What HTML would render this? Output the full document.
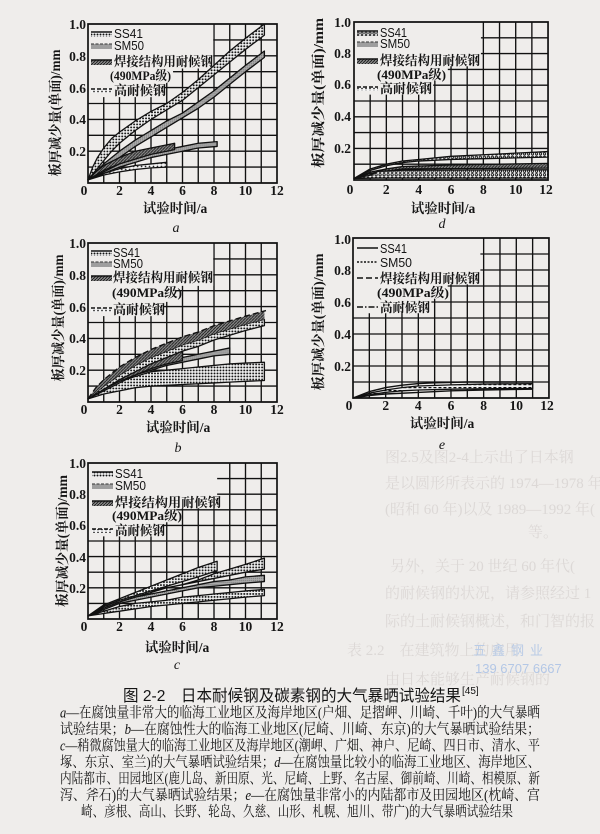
<!DOCTYPE html>
<html><head><meta charset="utf-8">
<style>
html,body{margin:0;padding:0;background:#efedeb;}
svg{display:block;}
.tk{font-family:"Liberation Serif",serif;font-size:13.5px;fill:#161616;font-weight:bold;}
.lg{font-family:"Liberation Sans","Noto Serif CJK SC",sans-serif;font-size:13px;fill:#141414;}
.cj{font-family:"Liberation Serif","Noto Serif CJK SC",serif;font-size:13px;fill:#141414;font-weight:bold;}
.ax{font-family:"Liberation Serif","Noto Serif CJK SC",serif;font-size:13.5px;fill:#161616;font-weight:bold;}
.pl{font-family:"Liberation Serif",serif;font-size:14px;font-style:italic;fill:#161616;}
.cap{font-family:"Liberation Serif","Noto Serif CJK SC",serif;font-size:14.5px;fill:#141414;}
.ttl{font-family:"Liberation Sans","Noto Sans CJK SC",sans-serif;font-size:16px;fill:#141414;}
.it{font-style:italic;font-family:"Liberation Serif",serif;}
.bl{font-family:"Liberation Serif","Noto Serif CJK SC",serif;font-size:15px;fill:#dcd8d6;}
.b{stroke:#111;stroke-width:1.3px;vector-effect:non-scaling-stroke;stroke-linejoin:round;}
.ln{fill:none;stroke:#111;stroke-width:1.4px;vector-effect:non-scaling-stroke;stroke-linejoin:round;}
.fr{fill:none;stroke:#111;stroke-width:1.7px;vector-effect:non-scaling-stroke;}
</style></head><body>
<svg width="600" height="834" viewBox="0 0 600 834" xmlns="http://www.w3.org/2000/svg">
<defs>
 <path id="grid" d="M1,0V1M2,0V1M3,0V1M4,0V1M5,0V1M6,0V1M7,0V1M8,0V1M9,0V1M10,0V1M11,0V1M0,.1H12M0,.2H12M0,.3H12M0,.4H12M0,.5H12M0,.6H12M0,.7H12M0,.8H12M0,.9H12" fill="none" stroke="#111" stroke-width="1.35" vector-effect="non-scaling-stroke"/>
 <pattern id="dDot" patternUnits="userSpaceOnUse" width="3" height="3" patternTransform="scale(0.0630,-0.00630)">
  <rect width="3" height="3" fill="#f4f4f4"/><circle cx="1.5" cy="1.5" r="1.0" fill="#111"/></pattern>
 <pattern id="dGray" patternUnits="userSpaceOnUse" width="2" height="2" patternTransform="scale(0.0630,-0.00630)">
  <rect width="2" height="2" fill="#adadad"/><circle cx="1" cy="1" r="0.55" fill="#666"/></pattern>
 <pattern id="dHatch" patternUnits="userSpaceOnUse" width="3" height="3" patternTransform="scale(0.0630,-0.00630)">
  <rect width="3" height="3" fill="#858585"/><path d="M0,3L3,0" stroke="#1a1a1a" stroke-width="0.9"/></pattern>
 <pattern id="dLite" patternUnits="userSpaceOnUse" width="4" height="3" patternTransform="scale(0.0630,-0.00630)">
  <rect width="4" height="3" fill="#f4f4f4"/><circle cx="2" cy="1.5" r="0.85" fill="#222"/></pattern>
 <pattern id="dO" patternUnits="userSpaceOnUse" width="4" height="3.5" patternTransform="scale(0.0620,-0.00630)">
  <rect width="4" height="3.5" fill="#f2f2f2"/><circle cx="2" cy="1.75" r="1.15" fill="none" stroke="#111" stroke-width="0.9"/></pattern>
 <pattern id="dDash" patternUnits="userSpaceOnUse" width="5" height="3" patternTransform="scale(0.0612,-0.00625)">
  <rect width="5" height="3" fill="#f2f2f2"/><rect x="0.5" y="1" width="3" height="1.2" fill="#111"/></pattern>
 <pattern id="lDot" patternUnits="userSpaceOnUse" width="3" height="3">
  <rect width="3" height="3" fill="#f4f4f4"/><circle cx="1.5" cy="1.5" r="1.0" fill="#111"/></pattern>
 <pattern id="lGray" patternUnits="userSpaceOnUse" width="2" height="2">
  <rect width="2" height="2" fill="#adadad"/><circle cx="1" cy="1" r="0.55" fill="#666"/></pattern>
 <pattern id="lHatch" patternUnits="userSpaceOnUse" width="3" height="3">
  <rect width="3" height="3" fill="#858585"/><path d="M0,3L3,0" stroke="#1a1a1a" stroke-width="0.9"/></pattern>
 <pattern id="lLite" patternUnits="userSpaceOnUse" width="4" height="3">
  <rect width="4" height="3" fill="#f4f4f4"/><circle cx="2" cy="1.5" r="0.85" fill="#222"/></pattern>
 <pattern id="lO" patternUnits="userSpaceOnUse" width="4" height="3.5">
  <rect width="4" height="3.5" fill="#f2f2f2"/><circle cx="2" cy="1.75" r="1.15" fill="none" stroke="#111" stroke-width="0.9"/></pattern>
</defs>

<rect width="600" height="834" fill="#efedeb"/>

<g class="bl">
 <text x="385" y="462">图2.5及图2-4上示出了日本钢</text>
 <text x="385" y="488">是以圆形所表示的 1974—1978 年</text>
 <text x="385" y="514">(昭和 60 年)以及 1989—1992 年(</text>
 <text x="528" y="537">等。</text>
 <text x="390" y="571">另外，关于 20 世纪 60 年代(</text>
 <text x="385" y="598">的耐候钢的状况，请参照经过 1</text>
 <text x="385" y="626">际的土耐候钢概述，和门智的报</text>
 <text x="347" y="655">表 2.2　在建筑物上的应用</text>
 <text x="385" y="684">由日本能够生产耐候钢的</text>
</g>
<text x="473" y="655" style="font-family:'Noto Sans CJK SC',sans-serif;font-size:13px;fill:#b9cbe6;letter-spacing:6px">五鑫钢业</text>
<text x="475" y="673" style="font-family:'Liberation Sans',sans-serif;font-size:13px;fill:#b3c7e6">139 6707 6667</text>

<!-- ============ Chart a ============ -->
<g transform="translate(88,183) scale(15.75,-159)">
 <use href="#grid"/>
 <polygon points="0,1 7.95,1 7.95,0.72 5.4,0.72 5.4,0.63 4.8,0.63 4.8,0.54 0,0.54" fill="#efedeb"/>
 <polygon class="b" fill="url(#dGray)" points="0,0.02 1,0.12 2,0.2 3,0.27 4,0.33 5,0.39 6,0.44 7,0.51 8,0.58 9,0.66 10,0.74 11.2,0.83 11.2,0.79 10,0.7 9,0.62 8,0.54 7,0.47 6,0.41 5,0.35 4,0.29 3,0.23 2,0.16 1,0.09"/>
 <polygon class="b" fill="url(#dDot)" points="0,0.02 0.3,0.1 0.6,0.16 1,0.22 1.5,0.28 2,0.32 3,0.39 4,0.45 5,0.5 6,0.57 7,0.65 8,0.74 9,0.83 10,0.91 11.2,1 11.2,0.93 10,0.84 9,0.76 8,0.68 7,0.6 6,0.52 5,0.46 4,0.4 3,0.33 2,0.25 1.5,0.2 1,0.14 0.5,0.08"/>
 <polygon class="b" fill="url(#dGray)" points="0,0.02 1,0.07 2,0.12 3,0.16 4,0.19 5,0.21 6,0.23 7,0.25 8.2,0.26 8.2,0.23 7,0.22 6,0.2 5,0.18 4,0.16 3,0.13 2,0.1 1,0.06"/>
 <polygon class="b" fill="url(#dHatch)" points="0,0.02 0.5,0.07 1,0.11 2,0.16 3,0.2 4,0.22 5,0.24 5.5,0.25 5.5,0.21 5,0.2 4,0.18 3,0.15 2,0.12 1,0.08 0.5,0.05"/>
 <polygon class="b" fill="url(#dLite)" points="0,0.02 1,0.06 2,0.09 3,0.11 4,0.12 5,0.13 5,0.1 4,0.095 3,0.085 2,0.07 1,0.05"/>
 <rect class="fr" x="0" y="0" width="12" height="1"/>
</g>
<g>
 <rect x="91" y="32" width="21" height="5" fill="url(#lDot)"/><line x1="91" y1="32" x2="112" y2="32" stroke="#111" stroke-width="1.5"/>
 <rect x="91" y="44" width="21" height="5" fill="url(#lGray)"/><line x1="91" y1="44" x2="112" y2="44" stroke="#555" stroke-width="1.2" stroke-dasharray="3,1.5"/>
 <rect x="91" y="60" width="21" height="5" fill="url(#lHatch)"/><line x1="91" y1="60" x2="112" y2="60" stroke="#111" stroke-width="1.5"/>
 <rect x="91" y="89" width="21" height="4" fill="url(#lLite)"/><line x1="91" y1="89" x2="112" y2="89" stroke="#111" stroke-width="1.4" stroke-dasharray="4,2"/>
 <text class="lg" x="114" y="38" textLength="29" lengthAdjust="spacingAndGlyphs">SS41</text>
 <text class="lg" x="114" y="50" textLength="30" lengthAdjust="spacingAndGlyphs">SM50</text>
 <text class="cj" x="114" y="66" textLength="99" lengthAdjust="spacingAndGlyphs">焊接结构用耐候钢</text>
 <text class="cj" x="110" y="80" textLength="61" lengthAdjust="spacingAndGlyphs">(490MPa级)</text>
 <text class="cj" x="114" y="95" textLength="52" lengthAdjust="spacingAndGlyphs">高耐候钢</text>
</g>
<g class="tk" text-anchor="end">
 <text x="86" y="156">0.2</text><text x="86" y="124">0.4</text><text x="86" y="93">0.6</text><text x="86" y="61">0.8</text><text x="86" y="29">1.0</text>
</g>
<g class="tk" text-anchor="middle">
 <text x="84" y="195">0</text><text x="119.5" y="195">2</text><text x="151" y="195">4</text><text x="182.5" y="195">6</text><text x="214" y="195">8</text><text x="245.5" y="195">10</text><text x="277" y="195">12</text>
</g>
<text class="ax" transform="translate(60,113) rotate(-90)" text-anchor="middle" textLength="127" lengthAdjust="spacingAndGlyphs">板厚减少量(单面)/mm</text>
<text class="ax" x="175" y="213" text-anchor="middle">试验时间/a</text>
<text class="pl" x="176" y="232" text-anchor="middle">a</text>

<!-- ============ Chart d ============ -->
<g transform="translate(354,180) scale(16.17,-158)">
 <use href="#grid"/>
 <polygon points="0,1 7.85,1 7.85,0.72 5.8,0.72 5.8,0.63 4.9,0.63 4.9,0.54 0,0.54" fill="#efedeb"/>
 <polygon class="b" fill="url(#dO)" points="0,0.01 0.5,0.04 1,0.07 2,0.1 3,0.12 4,0.13 6,0.15 8,0.16 10,0.17 12,0.18 12,0.145 10,0.14 8,0.135 6,0.13 4,0.12 3,0.11 2,0.09 1,0.06 0.5,0.035"/>
 <polygon class="b" fill="url(#dHatch)" points="0,0.01 1,0.05 2,0.07 3,0.085 6,0.095 9,0.1 12,0.105 12,0.075 9,0.073 6,0.072 3,0.07 2,0.055 1,0.04"/>
 <polygon class="b" fill="url(#dO)" points="0,0.01 1,0.03 1.5,0.055 3,0.062 12,0.065 12,0.012 1.5,0.012"/>
 <rect class="fr" x="0" y="0" width="12" height="1"/>
</g>
<g>
 <rect x="357" y="31" width="21" height="5" fill="url(#lO)"/><line x1="357" y1="31" x2="378" y2="31" stroke="#111" stroke-width="1.5"/>
 <rect x="357" y="42" width="21" height="5" fill="url(#lGray)"/><line x1="357" y1="42" x2="378" y2="42" stroke="#555" stroke-width="1.2" stroke-dasharray="3,1.5"/>
 <rect x="357" y="59" width="21" height="5" fill="url(#lHatch)"/><line x1="357" y1="59" x2="378" y2="59" stroke="#111" stroke-width="1.5"/>
 <rect x="357" y="87" width="21" height="4" fill="url(#lLite)"/><line x1="357" y1="87" x2="378" y2="87" stroke="#111" stroke-width="1.4" stroke-dasharray="4,2"/>
 <text class="lg" x="380" y="37" textLength="27" lengthAdjust="spacingAndGlyphs">SS41</text>
 <text class="lg" x="380" y="48" textLength="30" lengthAdjust="spacingAndGlyphs">SM50</text>
 <text class="cj" x="380" y="65" textLength="100" lengthAdjust="spacingAndGlyphs">焊接结构用耐候钢</text>
 <text class="cj" x="377" y="79" textLength="69" lengthAdjust="spacingAndGlyphs">(490MPa级)</text>
 <text class="cj" x="380" y="93" textLength="52" lengthAdjust="spacingAndGlyphs">高耐候钢</text>
</g>
<g class="tk" text-anchor="end">
 <text x="351" y="153">0.2</text><text x="351" y="121">0.4</text><text x="351" y="89">0.6</text><text x="351" y="58">0.8</text><text x="351" y="27">1.0</text>
</g>
<g class="tk" text-anchor="middle">
 <text x="350" y="194">0</text><text x="386.3" y="194">2</text><text x="418.7" y="194">4</text><text x="451" y="194">6</text><text x="483.4" y="194">8</text><text x="515.7" y="194">10</text><text x="546" y="194">12</text>
</g>
<text class="ax" transform="translate(323,93) rotate(-90)" text-anchor="middle" textLength="150" lengthAdjust="spacingAndGlyphs">板厚减少量(单面)/mm</text>
<text class="ax" x="443" y="213" text-anchor="middle">试验时间/a</text>
<text class="pl" x="442" y="228" text-anchor="middle">d</text>

<!-- ============ Chart b ============ -->
<g transform="translate(88,402) scale(15.75,-159)">
 <use href="#grid"/>
 <polygon points="0,1 7.95,1 7.95,0.73 5.6,0.73 5.6,0.63 4.8,0.63 4.8,0.54 0,0.54" fill="#efedeb"/>
 <polygon class="b" fill="url(#dDot)" points="0,0.02 1,0.08 2,0.13 3,0.16 4,0.19 5,0.2 6,0.21 7,0.22 8,0.23 9,0.24 10,0.245 11.2,0.25 11.2,0.135 10,0.13 9,0.125 8,0.12 7,0.115 6,0.11 5,0.105 4,0.1 3,0.09 2,0.07 1,0.05"/>
 <polygon class="b" fill="url(#dGray)" points="0,0.02 1,0.09 2,0.14 3,0.19 4,0.22 5,0.25 6,0.28 7,0.3 8,0.32 9,0.34 9,0.3 8,0.29 7,0.27 6,0.25 5,0.23 4,0.2 3,0.17 2,0.12 1,0.07"/>
 <polygon class="b" fill="url(#dHatch)" points="0,0.02 1,0.1 2,0.16 3,0.21 4,0.26 5,0.3 6,0.34 6,0.26 5,0.24 4,0.21 3,0.17 2,0.13 1,0.08"/>
 <polygon class="b" fill="url(#dDot)" points="0,0.02 1,0.1 2,0.17 3,0.23 4,0.28 5,0.32 6,0.36 7,0.39 8,0.43 9,0.46 10,0.49 11.2,0.52 11.2,0.48 10,0.45 9,0.42 8,0.39 7,0.35 6,0.32 5,0.28 4,0.24 3,0.19 2,0.14 1,0.08"/>
 <polygon fill="url(#dHatch)" points="0,0.02 0.5,0.09 1,0.14 2,0.22 3,0.28 4,0.33 5,0.37 6,0.41 7,0.44 8,0.48 9,0.51 10,0.54 11.2,0.57 11.2,0.52 10,0.49 9,0.46 8,0.43 7,0.39 6,0.36 5,0.32 4,0.28 3,0.23 2,0.17 1,0.1"/>
 <polyline class="ln" stroke-dasharray="6,3" points="0,0.02 0.5,0.09 1,0.14 2,0.22 3,0.28 4,0.33 5,0.37 6,0.41 7,0.44 8,0.48 9,0.51 10,0.54 11.3,0.575"/>
 <rect class="fr" x="0" y="0" width="12" height="1"/>
</g>
<g>
 <rect x="91" y="251" width="21" height="5" fill="url(#lDot)"/><line x1="91" y1="251" x2="112" y2="251" stroke="#111" stroke-width="1.5"/>
 <rect x="91" y="262" width="21" height="5" fill="url(#lGray)"/><line x1="91" y1="262" x2="112" y2="262" stroke="#555" stroke-width="1.2" stroke-dasharray="3,1.5"/>
 <rect x="91" y="276" width="21" height="5" fill="url(#lHatch)"/><line x1="91" y1="276" x2="112" y2="276" stroke="#111" stroke-width="1.5"/>
 <rect x="91" y="308" width="21" height="4" fill="url(#lLite)"/><line x1="91" y1="308" x2="112" y2="308" stroke="#111" stroke-width="1.4" stroke-dasharray="4,2"/>
 <text class="lg" x="113" y="257" textLength="27" lengthAdjust="spacingAndGlyphs">SS41</text>
 <text class="lg" x="113" y="268" textLength="30" lengthAdjust="spacingAndGlyphs">SM50</text>
 <text class="cj" x="113" y="282" textLength="100" lengthAdjust="spacingAndGlyphs">焊接结构用耐候钢</text>
 <text class="cj" x="112" y="297" textLength="70" lengthAdjust="spacingAndGlyphs">(490MPa级)</text>
 <text class="cj" x="113" y="314" textLength="52" lengthAdjust="spacingAndGlyphs">高耐候钢</text>
</g>
<g class="tk" text-anchor="end">
 <text x="86" y="375">0.2</text><text x="86" y="343">0.4</text><text x="86" y="312">0.6</text><text x="86" y="280">0.8</text><text x="86" y="248">1.0</text>
</g>
<g class="tk" text-anchor="middle">
 <text x="84" y="414">0</text><text x="119.5" y="414">2</text><text x="151" y="414">4</text><text x="182.5" y="414">6</text><text x="214" y="414">8</text><text x="245.5" y="414">10</text><text x="277" y="414">12</text>
</g>
<text class="ax" transform="translate(63,318) rotate(-90)" text-anchor="middle" textLength="127" lengthAdjust="spacingAndGlyphs">板厚减少量(单面)/mm</text>
<text class="ax" x="178" y="432" text-anchor="middle">试验时间/a</text>
<text class="pl" x="178" y="452" text-anchor="middle">b</text>

<!-- ============ Chart e ============ -->
<g transform="translate(353,398) scale(16.33,-160)">
 <use href="#grid"/>
 <polygon points="0,1 7.8,1 7.8,0.71 5.8,0.71 5.8,0.62 4.8,0.62 4.8,0.53 0,0.53" fill="#efedeb"/>
 <polygon class="b" fill="url(#dDash)" points="0,0 1,0.03 2,0.05 3,0.065 4,0.075 6,0.082 8,0.087 11,0.09 11,0.06 8,0.058 6,0.055 4,0.05 3,0.045 2,0.035 1,0.02"/>
 <polyline class="ln" points="0,0 1,0.04 2,0.065 3,0.08 4,0.09 5,0.095 7,0.1 11,0.1"/>
 <polyline class="ln" points="0,0 1,0.015 2,0.025 4,0.035 6,0.045 8,0.05 11,0.055"/>
 <rect class="fr" x="0" y="0" width="12" height="1"/>
</g>
<g stroke="#111" stroke-width="1.5">
 <line x1="357" y1="248" x2="378" y2="248"/>
 <line x1="357" y1="262" x2="378" y2="262" stroke-dasharray="2,1.5"/>
 <line x1="357" y1="278" x2="378" y2="278" stroke-dasharray="6,3"/>
 <line x1="357" y1="307" x2="378" y2="307" stroke-dasharray="6,2,1.5,2"/>
</g>
<g>
 <text class="lg" x="380" y="253" textLength="27" lengthAdjust="spacingAndGlyphs">SS41</text>
 <text class="lg" x="380" y="267" textLength="32" lengthAdjust="spacingAndGlyphs">SM50</text>
 <text class="cj" x="380" y="283" textLength="100" lengthAdjust="spacingAndGlyphs">焊接结构用耐候钢</text>
 <text class="cj" x="377" y="297" textLength="72" lengthAdjust="spacingAndGlyphs">(490MPa级)</text>
 <text class="cj" x="380" y="312" textLength="50" lengthAdjust="spacingAndGlyphs">高耐候钢</text>
</g>
<g class="tk" text-anchor="end">
 <text x="351" y="371">0.2</text><text x="351" y="339">0.4</text><text x="351" y="307">0.6</text><text x="351" y="275">0.8</text><text x="351" y="244">1.0</text>
</g>
<g class="tk" text-anchor="middle">
 <text x="349" y="410">0</text><text x="385.7" y="410">2</text><text x="418.3" y="410">4</text><text x="451" y="410">6</text><text x="483.6" y="410">8</text><text x="516.3" y="410">10</text><text x="547" y="410">12</text>
</g>
<text class="ax" transform="translate(323,322) rotate(-90)" text-anchor="middle" textLength="137" lengthAdjust="spacingAndGlyphs">板厚减少量(单面)/mm</text>
<text class="ax" x="442" y="428" text-anchor="middle">试验时间/a</text>
<text class="pl" x="442" y="449" text-anchor="middle">e</text>

<!-- ============ Chart c ============ -->
<g transform="translate(88,619) scale(15.75,-156)">
 <use href="#grid"/>
 <polygon points="0,1 8.2,1 8.2,0.71 5.6,0.71 5.6,0.62 4.7,0.62 4.7,0.53 0,0.53" fill="#efedeb"/>
 <polygon class="b" fill="url(#dDot)" points="0,0.02 1,0.05 2,0.08 3,0.1 4,0.11 5,0.12 6,0.14 7,0.15 8,0.16 9,0.17 10,0.18 11.2,0.19 11.2,0.15 10,0.14 9,0.13 8,0.12 7,0.11 6,0.1 5,0.09 4,0.08 3,0.065 2,0.05 1,0.035"/>
 <polygon class="b" fill="url(#dGray)" points="0,0.02 1,0.07 2,0.11 3,0.14 4,0.16 5,0.18 6,0.2 7,0.22 8,0.24 9,0.25 10,0.27 11.2,0.28 11.2,0.24 10,0.23 9,0.22 8,0.21 7,0.2 6,0.18 5,0.16 4,0.14 3,0.12 2,0.1 1,0.06"/>
 <polygon class="b" fill="url(#dDot)" points="0,0.02 1,0.08 2,0.12 3,0.15 4,0.18 5,0.2 6,0.22 7,0.25 8,0.29 9,0.32 10,0.35 11.2,0.39 11.2,0.32 10,0.3 9,0.28 8,0.26 7,0.24 6,0.22 5,0.2 4,0.17 3,0.14 2,0.11 1,0.07"/>
 <polygon class="b" fill="url(#dDot)" points="0,0.02 1,0.09 2,0.13 3,0.17 4,0.21 5,0.25 6,0.29 7,0.33 8.2,0.37 8.2,0.31 7,0.27 6,0.24 5,0.21 4,0.18 3,0.15 2,0.12 1,0.08"/>
 <rect class="fr" x="0" y="0" width="12" height="1"/>
</g>
<g>
 <rect x="92" y="472" width="21" height="5" fill="url(#lDot)"/><line x1="92" y1="472" x2="113" y2="472" stroke="#111" stroke-width="1.5"/>
 <rect x="92" y="484" width="21" height="5" fill="url(#lGray)"/><line x1="92" y1="484" x2="113" y2="484" stroke="#555" stroke-width="1.2" stroke-dasharray="3,1.5"/>
 <rect x="92" y="501" width="21" height="5" fill="url(#lHatch)"/><line x1="92" y1="501" x2="113" y2="501" stroke="#111" stroke-width="1.5"/>
 <rect x="92" y="529" width="21" height="4" fill="url(#lLite)"/><line x1="92" y1="529" x2="113" y2="529" stroke="#111" stroke-width="1.4" stroke-dasharray="4,2"/>
 <text class="lg" x="115" y="478" textLength="28" lengthAdjust="spacingAndGlyphs">SS41</text>
 <text class="lg" x="115" y="490" textLength="31" lengthAdjust="spacingAndGlyphs">SM50</text>
 <text class="cj" x="115" y="507" textLength="106" lengthAdjust="spacingAndGlyphs">焊接结构用耐候钢</text>
 <text class="cj" x="112" y="520" textLength="70" lengthAdjust="spacingAndGlyphs">(490MPa级)</text>
 <text class="cj" x="115" y="535" textLength="50" lengthAdjust="spacingAndGlyphs">高耐候钢</text>
</g>
<g class="tk" text-anchor="end">
 <text x="86" y="593">0.2</text><text x="86" y="562">0.4</text><text x="86" y="530">0.6</text><text x="86" y="499">0.8</text><text x="86" y="468">1.0</text>
</g>
<g class="tk" text-anchor="middle">
 <text x="84" y="631">0</text><text x="119.5" y="631">2</text><text x="151" y="631">4</text><text x="182.5" y="631">6</text><text x="214" y="631">8</text><text x="245.5" y="631">10</text><text x="277" y="631">12</text>
</g>
<text class="ax" transform="translate(67,541) rotate(-90)" text-anchor="middle" textLength="132" lengthAdjust="spacingAndGlyphs">板厚减少量(单面)/mm</text>
<text class="ax" x="177" y="652" text-anchor="middle">试验时间/a</text>
<text class="pl" x="177" y="669" text-anchor="middle">c</text>

<!-- ============ Caption ============ -->
<text class="ttl" x="123" y="701" textLength="338" lengthAdjust="spacingAndGlyphs">图 2-2　日本耐候钢及碳素钢的大气暴晒试验结果</text>
<text class="ttl" x="462" y="694" style="font-size:10px">[45]</text>
<text class="cap" x="60" y="717.5" textLength="480" lengthAdjust="spacingAndGlyphs"><tspan class="it">a</tspan>—在腐蚀量非常大的临海工业地区及海岸地区(户畑、足摺岬、川崎、千叶)的大气暴晒</text>
<text class="cap" x="60" y="734" textLength="480" lengthAdjust="spacingAndGlyphs">试验结果；<tspan class="it">b</tspan>—在腐蚀性大的临海工业地区(尼崎、川崎、东京)的大气暴晒试验结果；</text>
<text class="cap" x="60" y="750.5" textLength="480" lengthAdjust="spacingAndGlyphs"><tspan class="it">c</tspan>—稍微腐蚀量大的临海工业地区及海岸地区(潮岬、广畑、神户、尼崎、四日市、清水、平</text>
<text class="cap" x="60" y="767" textLength="480" lengthAdjust="spacingAndGlyphs">塚、东京、室兰)的大气暴晒试验结果；<tspan class="it">d</tspan>—在腐蚀量比较小的临海工业地区、海岸地区、</text>
<text class="cap" x="60" y="783.5" textLength="480" lengthAdjust="spacingAndGlyphs">内陆都市、田园地区(鹿儿岛、新田原、光、尼崎、上野、名古屋、御前崎、川崎、相模原、新</text>
<text class="cap" x="60" y="800" textLength="480" lengthAdjust="spacingAndGlyphs">泻、斧石)的大气暴晒试验结果；<tspan class="it">e</tspan>—在腐蚀量非常小的内陆都市及田园地区(枕崎、宫</text>
<text class="cap" x="81" y="816.5" textLength="432" lengthAdjust="spacingAndGlyphs">崎、彦根、高山、长野、轮岛、久慈、山形、札幌、旭川、带广)的大气暴晒试验结果</text>
</svg>
</body></html>
